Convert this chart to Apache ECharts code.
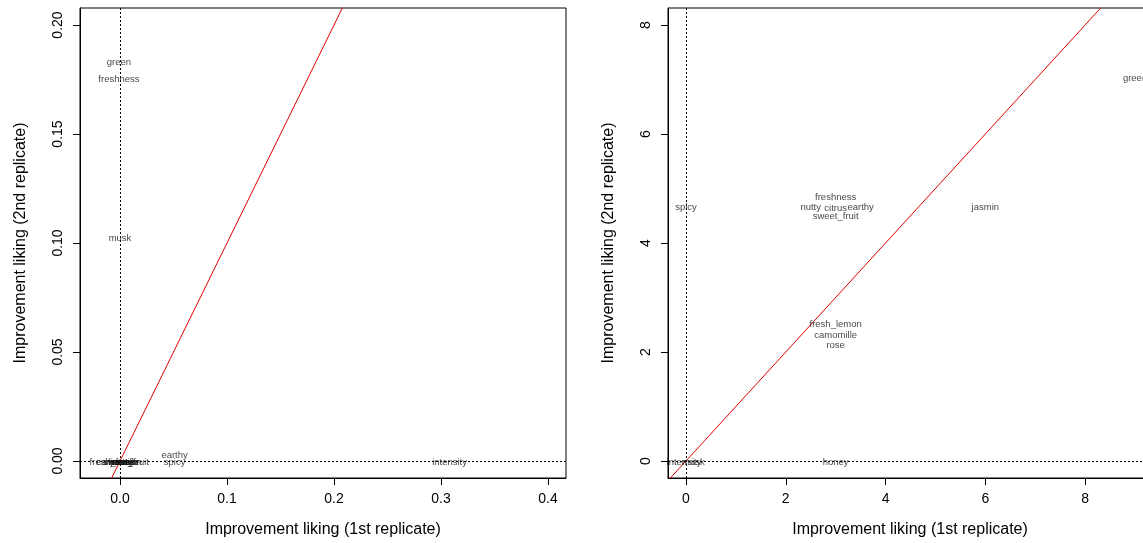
<!DOCTYPE html>
<html>
<head>
<meta charset="utf-8">
<script src="https://cdn.jsdelivr.net/npm/echarts@6/dist/echarts.min.js"></script>
<style>html,body{margin:0;padding:0;background:#fff;}#c{width:1143px;height:543px;}</style>
</head>
<body>
<div id="c"></div>
<script>
// Left panel labels and values
const leftNames = ["green","freshness","musk","earthy","spicy","intensity","fresh_lemon","camomille","rose","honey","nutty","citrus","jasmin","sweet_fruit"];
const leftX = [-0.001,-0.001,0.0,0.051,0.051,0.308,-0.004,-0.002,0.0,0.001,0.002,0.003,0.004,0.0056];
const leftY = [0.183,0.175,0.102,0.0028,-0.0005,-0.0005,-0.0005,-0.0005,-0.0005,-0.0005,-0.0005,-0.0005,-0.0005,-0.0005];

// Right panel labels and values
const rightNames = ["green","spicy","freshness","nutty","citrus","earthy","sweet_fruit","jasmin","fresh_lemon","camomille","rose","honey","intensity","musk"];
const rightX = [9.0,0.0,3.0,2.5,3.0,3.5,3.0,6.0,3.0,3.0,3.0,3.0,-0.04,0.15];
const rightY = [7.02,4.66,4.84,4.66,4.64,4.66,4.48,4.66,2.51,2.31,2.13,-0.02,-0.02,-0.02];

const leftTicksX = [0,0.1,0.2,0.3,0.4];
const leftTicksY = [0,0.05,0.1,0.15,0.2];
const rightTicksX = [0,2,4,6,8];
const rightTicksY = [0,2,4,6,8];

const FONT = "'Liberation Sans', Arial, Helvetica, sans-serif";

function pts(xs, ys, ns){ return xs.map((x,i)=>[x, ys[i], ns[i]]); }

function xAxisDef(idx, min, max, ticks, dec){
  return {
    type:'value', gridIndex:idx, min:min, max:max,
    name:'Improvement liking (1st replicate)', nameLocation:'middle', nameGap:44,
    nameTextStyle:{fontFamily:FONT, fontSize:16, color:'#000'},
    axisLine:{show:true, onZero:false, lineStyle:{color:'#000', width:1}},
    axisTick:{show:true, length:7, customValues:ticks, lineStyle:{color:'#000'}},
    axisLabel:{customValues:ticks, margin:14, fontFamily:FONT, fontSize:14, color:'#000',
      formatter:v=> dec===null ? String(v) : Number(v).toFixed(dec)},
    splitLine:{show:false}
  };
}
function yAxisDef(idx, min, max, ticks, dec){
  return {
    type:'value', gridIndex:idx, min:min, max:max,
    name:'Improvement liking (2nd replicate)', nameLocation:'middle', nameGap:51,
    nameTextStyle:{fontFamily:FONT, fontSize:16, color:'#000'},
    axisLine:{show:true, onZero:false, lineStyle:{color:'#000', width:1}},
    axisTick:{show:true, length:7, customValues:ticks, lineStyle:{color:'#000'}},
    axisLabel:{customValues:ticks, rotate:90, margin:15, fontFamily:FONT, fontSize:14, color:'#000',
      formatter:v=> dec===null ? String(v) : Number(v).toFixed(dec)},
    splitLine:{show:false}
  };
}

function labelSeries(idx, data){
  return {
    type:'scatter', xAxisIndex:idx, yAxisIndex:idx, data:data,
    symbolSize:1, itemStyle:{color:'rgba(0,0,0,0)'},
    label:{show:true, position:'inside', formatter:p=>p.value[2],
      fontFamily:FONT, fontSize:9.5, color:'#111'},
    emphasis:{disabled:true}, silent:true, z:5
  };
}
function refSeries(idx, lo, hi){
  return {
    type:'line', xAxisIndex:idx, yAxisIndex:idx, data:[[lo,lo],[hi,hi]],
    symbol:'none', clip:true, lineStyle:{color:'#e00000', width:1}, silent:true, z:3,
    markLine:{symbol:['none','none'], silent:true, label:{show:false},
      lineStyle:{color:'#000', type:[2,2], width:1},
      data:[{xAxis:0},{yAxis:0}]}
  };
}

const chart = echarts.init(document.getElementById('c'), null, {renderer:'canvas'});
chart.setOption({
  animation:false,
  backgroundColor:'#fff',
  grid:[
    {left:80, top:8, width:486, height:470, show:true, borderColor:'#000', borderWidth:1, outerBoundsMode:'none', containLabel:false},
    {left:668, top:8, width:484, height:470, show:true, borderColor:'#000', borderWidth:1, outerBoundsMode:'none', containLabel:false}
  ],
  xAxis:[
    xAxisDef(0, -0.0374, 0.4168, leftTicksX, 1),
    xAxisDef(1, -0.36, 9.34, rightTicksX, null)
  ],
  yAxis:[
    yAxisDef(0, -0.0078, 0.2078, leftTicksY, 2),
    yAxisDef(1, -0.312, 8.312, rightTicksY, null)
  ],
  series:[
    refSeries(0, -1, 1),
    labelSeries(0, pts(leftX, leftY, leftNames)),
    refSeries(1, -1, 20),
    labelSeries(1, pts(rightX, rightY, rightNames))
  ]
});
</script>
</body>
</html>
